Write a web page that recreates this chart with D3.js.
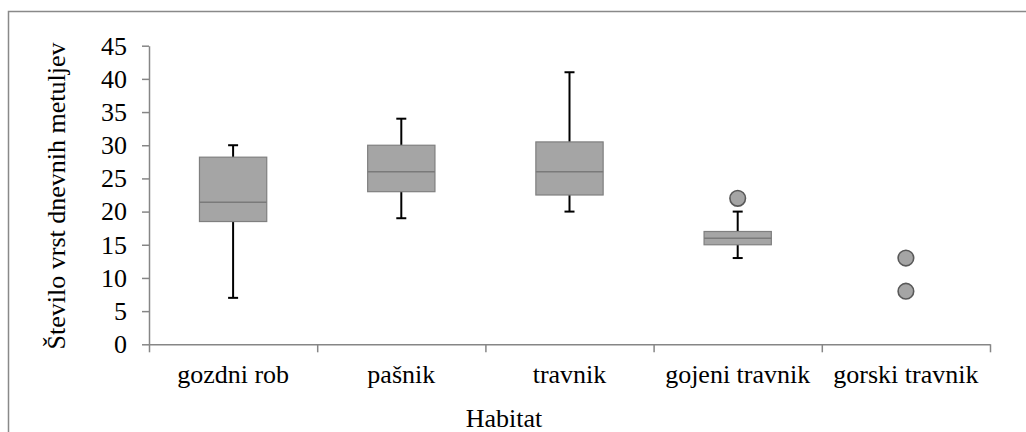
<!DOCTYPE html>
<html>
<head>
<meta charset="utf-8">
<script src="https://cdn.jsdelivr.net/npm/d3@7"></script>
<style>
  html, body { margin: 0; padding: 0; background: #fff; font-family: "Liberation Serif", "Times New Roman", serif; }
  svg { display: block; }
</style>
</head>
<body>
<svg id="chart" width="1026" height="432"></svg>
<script>
// Species counts of day-flying butterflies per habitat (box plot summaries)
const categories  = ["gozdni rob", "pašnik", "travnik", "gojeni travnik", "gorski travnik"];
const whiskerLow  = [7, 19, 20, 13, null];
const q1          = [18.5, 23, 22.5, 15, null];
const median      = [21.4, 26, 26, 16, null];
const q3          = [28.2, 30, 30.5, 17, null];
const whiskerHigh = [30, 34, 41, 20, null];
const outliers    = [[], [], [], [22], [13, 8]];
const yTicks      = [0, 5, 10, 15, 20, 25, 30, 35, 40, 45];

const FONT = '"Liberation Serif", "Times New Roman", serif';

const svg = d3.select("#chart");

const plot = { left: 149, right: 990, top: 45.7, bottom: 344.3 };

const y = d3.scaleLinear().domain([0, 45]).range([plot.bottom, plot.top]);
const x = d3.scaleBand().domain(categories).range([plot.left, plot.right]).padding(0);
const edges = d3.scaleLinear().domain([0, categories.length]).range([plot.left, plot.right]);

const axisColor = "#868686";
const boxFill = "#a5a5a5";
const boxStroke = "#7f7f7f";

// outer frame
svg.append("rect")
  .attr("x", 8.5).attr("y", 11.5)
  .attr("width", 1040).attr("height", 440)
  .attr("fill", "none")
  .attr("stroke", "#898989")
  .attr("stroke-width", 1.5);

// y axis
const yAxis = svg.append("g")
  .attr("transform", `translate(${plot.left},0)`)
  .call(d3.axisLeft(y).tickValues(yTicks).tickSize(7).tickSizeOuter(0).tickPadding(15));
yAxis.attr("font-family", null).attr("font-size", null);
yAxis.selectAll("path, line").attr("stroke", axisColor).attr("stroke-width", 1.5);
yAxis.selectAll("text")
  .style("font-family", FONT)
  .style("font-size", "26px")
  .attr("fill", "#000");

// x axis (ticks at category boundaries)
const xAxis = svg.append("g")
  .attr("transform", `translate(0,${plot.bottom})`)
  .call(d3.axisBottom(edges).tickValues(d3.range(categories.length + 1)).tickSize(8).tickSizeOuter(0).tickFormat(""));
xAxis.selectAll("path, line").attr("stroke", axisColor).attr("stroke-width", 1.5);

// category labels
svg.append("g").selectAll("text")
  .data(categories)
  .join("text")
  .attr("x", d => x(d) + x.bandwidth() / 2)
  .attr("y", 383)
  .attr("text-anchor", "middle")
  .style("font-family", FONT)
  .style("font-size", "26px")
  .attr("fill", "#000")
  .text(d => d);

// axis titles
svg.append("text")
  .attr("transform", "rotate(-90)")
  .attr("x", -196)
  .attr("y", 65)
  .attr("text-anchor", "middle")
  .style("font-family", FONT)
  .style("font-size", "26px")
  .attr("fill", "#000")
  .text("Število vrst dnevnih metuljev");

svg.append("text")
  .attr("x", 504)
  .attr("y", 427)
  .attr("text-anchor", "middle")
  .style("font-family", FONT)
  .style("font-size", "26px")
  .attr("fill", "#000")
  .text("Habitat");

// box plots
const boxW = x.bandwidth() * 0.4;
const capW = 10;
const rows = categories.map((c, i) => ({
  c, lo: whiskerLow[i], q1: q1[i], med: median[i], q3: q3[i], hi: whiskerHigh[i], out: outliers[i]
}));
const g = svg.append("g");
const cx = d => x(d.c) + x.bandwidth() / 2;
const withBox = rows.filter(d => d.q1 !== null);

// whiskers
g.selectAll(".wh-hi").data(withBox).join("line")
  .attr("x1", cx).attr("x2", cx)
  .attr("y1", d => y(d.q3)).attr("y2", d => y(d.hi))
  .attr("stroke", "#000").attr("stroke-width", 2);
g.selectAll(".wh-lo").data(withBox).join("line")
  .attr("x1", cx).attr("x2", cx)
  .attr("y1", d => y(d.q1)).attr("y2", d => y(d.lo))
  .attr("stroke", "#000").attr("stroke-width", 2);
g.selectAll(".cap-hi").data(withBox).join("line")
  .attr("x1", d => cx(d) - capW / 2).attr("x2", d => cx(d) + capW / 2)
  .attr("y1", d => y(d.hi)).attr("y2", d => y(d.hi))
  .attr("stroke", "#000").attr("stroke-width", 2);
g.selectAll(".cap-lo").data(withBox).join("line")
  .attr("x1", d => cx(d) - capW / 2).attr("x2", d => cx(d) + capW / 2)
  .attr("y1", d => y(d.lo)).attr("y2", d => y(d.lo))
  .attr("stroke", "#000").attr("stroke-width", 2);

// boxes
g.selectAll(".box").data(withBox).join("rect")
  .attr("x", d => cx(d) - boxW / 2)
  .attr("y", d => y(d.q3))
  .attr("width", boxW)
  .attr("height", d => y(d.q1) - y(d.q3))
  .attr("fill", boxFill)
  .attr("stroke", boxStroke)
  .attr("stroke-width", 1.2);

// medians
g.selectAll(".med").data(withBox).join("line")
  .attr("x1", d => cx(d) - boxW / 2).attr("x2", d => cx(d) + boxW / 2)
  .attr("y1", d => y(d.med)).attr("y2", d => y(d.med))
  .attr("stroke", "#7a7a7a").attr("stroke-width", 1.5);

// outliers
const pts = rows.flatMap(d => d.out.map(v => ({ c: d.c, v })));
g.selectAll(".out").data(pts).join("circle")
  .attr("cx", cx)
  .attr("cy", d => y(d.v))
  .attr("r", 7.8)
  .attr("fill", boxFill)
  .attr("stroke", "#595959")
  .attr("stroke-width", 1.6);
</script>
</body>
</html>
